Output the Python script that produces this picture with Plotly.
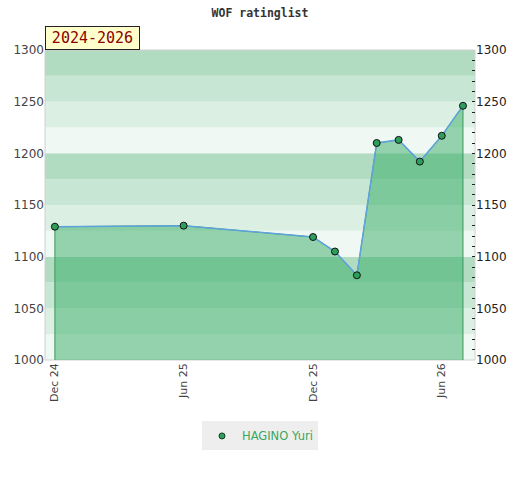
import plotly.graph_objects as go

# ---- data ----
dates = ["2024-12-01", "2025-06-01", "2025-12-01", "2026-01-01", "2026-02-01",
         "2026-03-01", "2026-04-01", "2026-05-01", "2026-06-01", "2026-07-01"]
ratings = [1129, 1130, 1119, 1105, 1082, 1210, 1213, 1192, 1217, 1246]
player = "HAGINO Yuri"
tick_dates = ["2024-12-01", "2025-06-01", "2025-12-01", "2026-06-01"]
tick_text = ["Dec 24", "Jun 25", "Dec 25", "Jun 26"]
y_ticks = [1000, 1050, 1100, 1150, 1200, 1250, 1300]
period_label = "2024-2026"
title = "WOF ratinglist"

y_min, y_max = 1000, 1300
x_range = ["2024-11-17", "2026-07-18"]
band_colors = ["#f0f8f3", "#dcefe3", "#c8e6d4", "#b2dcc2"]  # from bottom within each 100

fig = go.Figure()

# area polygon down to the axis floor
fig.add_trace(go.Scatter(
    x=[dates[0]] + dates + [dates[-1]],
    y=[y_min] + ratings + [y_min],
    fill="toself", fillcolor="rgba(46,170,96,0.48)",
    line=dict(color="#3a9a5a", width=1),
    mode="lines", hoverinfo="skip", showlegend=False))

# line + markers
fig.add_trace(go.Scatter(
    x=dates, y=ratings, mode="lines+markers", name=player, showlegend=False,
    line=dict(color="#5ea3dc", width=1.5),
    marker=dict(size=7, color="#2e9e5b", line=dict(color="#111", width=1))))

# legend entry (marker only)
fig.add_trace(go.Scatter(
    x=[None], y=[None], mode="markers", name=player,
    marker=dict(size=6, color="#2e9e5b", line=dict(color="#123d22", width=1))))

# invisible trace for the right axis
fig.add_trace(go.Scatter(x=dates, y=ratings, yaxis="y2", mode="lines",
                         line=dict(width=0), opacity=0, showlegend=False,
                         hoverinfo="skip"))

shapes = []
for i, lo in enumerate(range(y_min, y_max, 25)):
    shapes.append(dict(type="rect", xref="paper", yref="y", x0=0, x1=1,
                       y0=lo, y1=lo + 25, fillcolor=band_colors[i % 4],
                       line=dict(width=0), layer="below"))
shapes.append(dict(type="rect", xref="paper", yref="paper", x0=0, x1=1, y0=0, y1=1,
                   line=dict(color="#d0d0d0", width=1), layer="below"))

fig.update_layout(
    width=520, height=480,
    margin=dict(l=45, r=45, t=50, b=120, autoexpand=False),
    paper_bgcolor="white", plot_bgcolor="white",
    title=dict(text="<b>" + title + "</b>", x=0.5, xanchor="center", y=0.973, yanchor="middle",
               font=dict(family="DejaVu Sans Mono", size=11.5, color="#333")),
    shapes=shapes,
    xaxis=dict(type="date", range=x_range, tickvals=tick_dates, ticktext=tick_text,
               tickangle=-90, showgrid=False, zeroline=False, ticks="", automargin=False,
               tickfont=dict(family="DejaVu Sans", size=11, color="#444")),
    yaxis=dict(range=[y_min, y_max], tickvals=y_ticks, showgrid=False, zeroline=False,
               ticks="", automargin=False,
               tickfont=dict(family="DejaVu Sans", size=12, color="#444")),
    yaxis2=dict(range=[y_min, y_max], overlaying="y", side="right", tickvals=y_ticks,
                showgrid=False, zeroline=False, ticks="inside", ticklen=3,
                tickcolor="#222", automargin=False,
                minor=dict(dtick=10, ticks="inside", ticklen=3, tickcolor="#222", showgrid=False),
                tickfont=dict(family="DejaVu Sans", size=12, color="#222")),
    legend=dict(orientation="h", x=0.5, xanchor="center", y=-0.245, yanchor="middle",
                itemwidth=30, bgcolor="#eeeeee",
                font=dict(family="DejaVu Sans", size=11.5, color="#3aa65c")),
    annotations=[dict(text=period_label, xref="paper", yref="paper", x=0, y=1,
                      xanchor="left", yanchor="bottom", showarrow=False, width=89, height=18,
                      bgcolor="#ffffcc", bordercolor="#222", borderwidth=1, borderpad=2,
                      font=dict(family="DejaVu Sans Mono", size=15, color="#8b0000"))],
)

fig.write_html("out.html", config={"displayModeBar": False},
               post_script="document.body.style.margin='0';")
